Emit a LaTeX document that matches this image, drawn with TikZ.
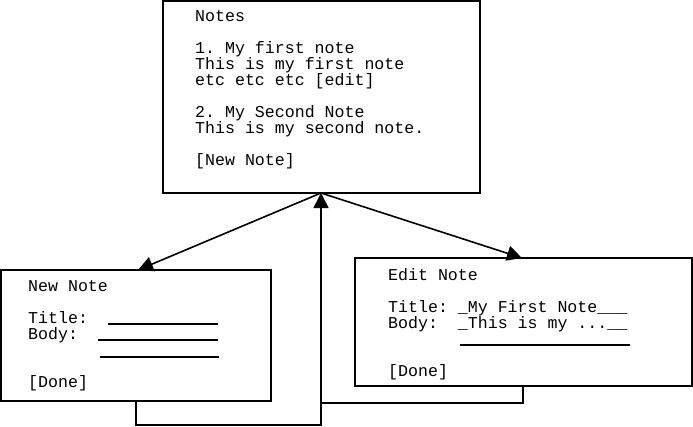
\documentclass[tikz,border=0pt]{standalone}
\usepackage{fontspec}
\setmonofont{Liberation Mono}
\usetikzlibrary{arrows.meta}
\begin{document}
\begin{tikzpicture}[x=1pt,y=-1pt,
  box/.style={draw,line width=2pt,fill=white},
  txt/.style={anchor=north west,inner sep=0pt,align=left,font=\ttfamily\fontsize{16.6}{16}\selectfont},
  conn/.style={line width=1.6pt},
  arr/.style={line width=1.6pt,-{Triangle[length=15pt,width=15pt]}},
  field/.style={line width=1.2pt}]
\useasboundingbox (0,0) rectangle (693,426);
% boxes
\draw[box] (163,1) rectangle (480,193);
\draw[box] (1,270) rectangle (271,401);
\draw[box] (355,258) rectangle (692,386);
\coordinate (top) at (321,193);
\coordinate (nn) at (138,270);
\coordinate (en) at (522,258);
\coordinate (nb) at (136,401);
\coordinate (eb) at (523,386);
\coordinate (c1) at (136,425);
\coordinate (c2) at (321,425);
\coordinate (c3) at (523,403);
\coordinate (c4) at (321,403);
% text
\node[txt] (notes) at (195,10) {Notes\\[16pt]1. My first note\\This is my first note\\etc etc etc [edit]\\[16pt]2. My Second Note\\This is my second note.\\[16pt][New Note]};
\node[txt] (newnote) at (28,280) {New Note\\[16pt]Title:\\Body:\\[32pt][Done]};
\node[txt] (editnote) at (388,268) {Edit Note\\[16pt]Title: \_My First Note\_\_\_\\Body:\ \ \_This is my ...\_\_\\[32pt][Done]};
% fields
\draw[field] (108,324) -- (218,324);
\draw[field] (98,340) -- (218,340);
\draw[field] (100,357) -- (219,357);
\draw[field] (460,345) -- (630,345);
% connectors
\draw[arr] (top) -- (nn);
\draw[arr] (top) -- (en);
\draw[conn] (nb) -- (c1) -- (c2) -- (c4);
\draw[conn] (eb) -- (c3) -- (c4);
\draw[arr] (c4) -- (top);
\end{tikzpicture}
\end{document}
